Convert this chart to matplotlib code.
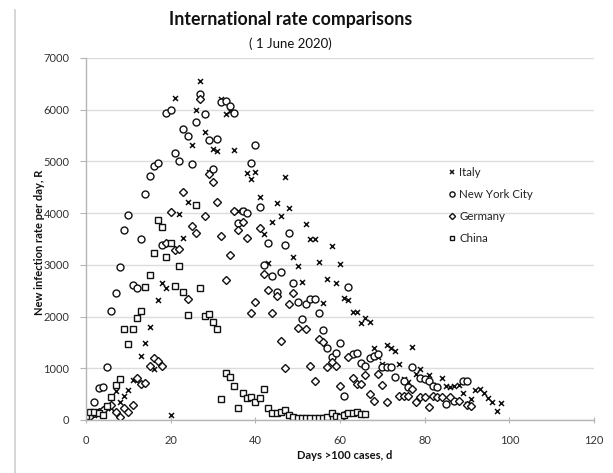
import matplotlib
matplotlib.use("Agg")
import matplotlib.pyplot as plt
from matplotlib.lines import Line2D

plt.rcParams['font.family'] = ['Lato', 'DejaVu Sans']

# data (days since 100 cases, new cases per day)
italy_days = list(range(0, 99))
italy_vals = [76, 74, 93, 131, 202, 233, 240, 566, 342, 466,
              587, 769, 778, 1247, 1492, 1797, 977, 2313, 2651, 2547,
              100, 6230, 3990, 3526, 4207, 5322, 5986, 6557, 5560, 4789,
              5249, 5210, 6203, 5909, 5974, 5217, 4050, 4053, 4782, 4668,
              4805, 4316, 3599, 3039, 3836, 4204, 3951, 4694, 4092, 3153,
              2972, 2667, 3786, 3493, 3491, 3047, 2256, 2729, 3370, 2646,
              3021, 2357, 2324, 2091, 2086, 1872, 1965, 1900, 1389, 1221,
              1075, 1444, 1401, 1327, 1083, 802, 744, 1402, 888, 992,
              789, 875, 675, 451, 813, 665, 642, 652, 669, 531,
              300, 397, 584, 593, 516, 416, 355, 178, 321]

nyc_days = [0, 1, 2, 3, 4, 5, 6, 7, 8, 9,
            10, 11, 12, 13, 14, 15, 16, 17, 18, 19,
            20, 21, 22, 23, 24, 25, 26, 27, 28, 29,
            30, 31, 32, 33, 34, 35, 36, 37, 38, 39,
            40, 41, 42, 43, 44, 45, 46, 47, 48, 49,
            50, 51, 52, 53, 54, 55, 56, 57, 58, 59,
            60, 61, 62, 63, 64, 65, 66, 67, 68, 69,
            70, 71, 72, 73, 75, 76, 77, 79, 80, 81,
            82, 83, 85, 87, 89, 90]
nyc_vals = [60, 110, 354, 625, 644, 1031, 2115, 2452, 2966, 3677,
            3967, 2612, 2548, 3508, 4373, 4725, 4905, 4973, 3386, 5935,
            5999, 5155, 5012, 5627, 5495, 4950, 5772, 6299, 5917, 5405,
            4853, 5437, 6140, 6159, 6076, 5935, 3800, 4034, 3996, 4973,
            5321, 4112, 2999, 3431, 2786, 2483, 2870, 3386, 3613, 2645,
            2277, 1949, 2245, 2341, 2341, 2065, 1742, 1387, 1225, 1291,
            1496, 470, 2579, 1277, 1302, 1109, 1045, 1194, 1238, 1277,
            1020, 1031, 1020, 838, 755, 644, 1020, 807, 788, 760,
            658, 644, 304, 373, 755, 760]

germany_days = [0, 1, 2, 3, 4, 6, 7, 8, 9, 10,
                11, 12, 13, 14, 15, 16, 17, 18, 19, 20,
                21, 22, 23, 24, 25, 26, 27, 28, 29, 30,
                31, 32, 33, 34, 35, 36, 37, 38, 39, 40,
                41, 42, 43, 44, 45, 46, 47, 48, 49, 50,
                52, 53, 54, 55, 56, 57, 58, 59, 60, 61,
                62, 63, 64, 65, 66, 67, 68, 69, 70, 71,
                74, 75, 76, 77, 78, 79, 80, 81, 82, 83,
                84, 86, 88, 90, 91]
germany_vals = [40, 70, 130, 160, 190, 290, 161, 64, 226, 161,
                290, 807, 697, 722, 1045, 1194, 1147, 1045, 3431, 4031,
                3290, 3303, 4418, 2336, 3754, 3618, 6202, 3947, 4750, 4599,
                4213, 3560, 2709, 3193, 4050, 3677, 3831, 3512, 2076, 2283,
                3711, 2819, 2516, 2076, 2399, 1534, 1012, 2245, 2463, 1786,
                1761, 1045, 760, 1562, 1503, 1031, 1128, 1051, 658, 97,
                1225, 807, 697, 697, 871, 497, 368, 890, 677, 354,
                470, 470, 470, 594, 354, 451, 439, 257, 464, 451,
                439, 451, 373, 290, 271]

china_days = list(range(0, 25)) + list(range(26, 67))
china_vals = [70, 160, 150, 140, 100, 271, 445, 677, 793, 1761,
              1471, 1761, 1974, 2109, 2574, 2806, 3231, 3870, 3735, 3154,
              3425, 2593, 2980, 2477, 2032,
              4160, 2554, 2012, 2051, 1896, 1761, 406, 910, 832, 658,
              232, 522, 426, 445, 348, 426, 600, 232, 135, 141,
              161, 194, 97, 64, 40, 35, 30, 35, 40, 45,
              40, 64, 129, 77, 64, 97, 129, 140, 161, 110, 110]

W, H = 613, 473
fig = plt.figure(figsize=(W / 100, H / 100), dpi=100)
ax = fig.add_axes([86 / W, 1 - 420 / H, (594 - 86) / W, (420 - 58) / H])

mk = dict(linestyle='none', color='#111111')
ax.plot(italy_days, italy_vals, marker='x', markersize=3.6, markeredgewidth=1.1,
        label='Italy', **mk)
ax.plot(nyc_days, nyc_vals, marker='o', markersize=5, markerfacecolor='white',
        markeredgewidth=1.0, label='New York City', **mk)
ax.plot(germany_days, germany_vals, marker='D', markersize=4.2, markerfacecolor='white',
        markeredgewidth=1.0, label='Germany', **mk)
ax.plot(china_days, china_vals, marker='s', markersize=4.8, markerfacecolor='white',
        markeredgewidth=1.0, label='China', **mk)

ax.set_xlim(0, 120)
ax.set_ylim(0, 7000)
ax.set_xticks(range(0, 121, 20))
ax.set_yticks(range(0, 7001, 1000))
ax.grid(axis='y', color='#dcdcdc', linewidth=1.0)
ax.set_axisbelow(True)
for s in ['top', 'right']:
    ax.spines[s].set_visible(False)
for s in ['left', 'bottom']:
    ax.spines[s].set_color('#b5b5b5')
    ax.spines[s].set_linewidth(1.0)
ax.tick_params(axis='y', direction='out', length=4, color='#b5b5b5',
               labelsize=8, labelcolor='#333333', pad=8)
ax.tick_params(axis='x', direction='inout', length=4, color='#b5b5b5',
               labelsize=8, labelcolor='#333333', pad=9)

fig.text(291 / W, 1 - 20 / H, 'International rate comparisons', ha='center', va='center',
         fontsize=12.8, fontweight='bold', color='#111111')
fig.text(290 / W, 1 - 44 / H, '( 1 June 2020)', ha='center', va='center',
         fontsize=9.5, color='#111111')
fig.text(40 / W, 1 - 242 / H, 'New infection rate per day, R', rotation=90,
         ha='center', va='center', fontsize=8, fontweight='bold', color='#111111')
fig.text(345 / W, 1 - 455 / H, 'Days >100 cases, d', ha='center', va='center',
         fontsize=8, fontweight='bold', color='#111111')

leg = ax.legend(loc='upper left', bbox_to_anchor=(449 / W, 1 - 167 / H),
                bbox_transform=fig.transFigure, frameon=False, fontsize=8.3,
                handlelength=0.5, handletextpad=0.4, labelspacing=0.95,
                markerscale=0.75, borderaxespad=0, borderpad=0)
for t in leg.get_texts():
    t.set_color('#222222')

# screenshot border on the left
fig.add_artist(Line2D([15 / W, 15 / W], [0, 1 - 10 / H], color='#cfcfcf', linewidth=1.2))

fig.savefig('out.png', dpi=100)
